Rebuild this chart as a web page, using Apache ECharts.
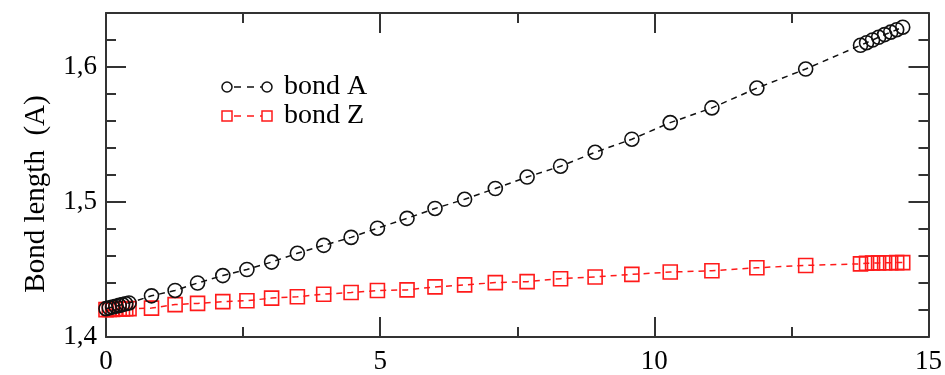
<!DOCTYPE html>
<html>
<head>
<meta charset="utf-8">
<script src="https://cdn.jsdelivr.net/npm/echarts@6/dist/echarts.min.js"></script>
<style>
  html, body { margin: 0; padding: 0; background: #fff; }
  #chart { width: 945px; height: 375px; }
</style>
</head>
<body>
<div id="chart"></div>
<script>
// Strain values (x) shared by both bonds
const strain = [0, 0.06, 0.12, 0.18, 0.24, 0.30, 0.36, 0.42, 0.83, 1.26, 1.67, 2.13, 2.57, 3.02, 3.49, 3.97,
  4.47, 4.95, 5.49, 6.00, 6.54, 7.10, 7.68, 8.29, 8.92, 9.59, 10.29, 11.05, 11.87, 12.76,
  13.76, 13.87, 13.98, 14.09, 14.20, 14.31, 14.42, 14.53];

// Bond lengths in angstrom
const bondA = [1.4210, 1.4216, 1.4222, 1.4228, 1.4234, 1.4240, 1.4246, 1.4252, 1.4305, 1.4345, 1.4400, 1.4455,
  1.4500, 1.4555, 1.4620, 1.4679, 1.4738, 1.4806, 1.4879, 1.4952, 1.5020, 1.5100, 1.5185, 1.5265, 1.5368,
  1.5465, 1.5588, 1.5697, 1.5844, 1.5985, 1.6161, 1.6180, 1.6200, 1.6220, 1.6240, 1.6258, 1.6276, 1.6295];

const bondZ = [1.4203, 1.4204, 1.4205, 1.4206, 1.4207, 1.4208, 1.4209, 1.4210, 1.4214, 1.4240, 1.4249, 1.4262,
  1.4269, 1.4288, 1.4298, 1.4317, 1.4330, 1.4344, 1.4349, 1.4371, 1.4386, 1.4403, 1.4410, 1.4432, 1.4445,
  1.4464, 1.4481, 1.4491, 1.4513, 1.4530, 1.4542, 1.4546, 1.4548, 1.4549, 1.4550, 1.4550, 1.4551, 1.4551];

const xTicks = [0, 5, 10, 15];
const yTicks = [1.4, 1.5, 1.6];

const FONT = '"Liberation Serif", "DejaVu Serif", serif';
const FRAME = '#333';

const pairs = (ys) => strain.map((x, i) => [x, ys[i]]);

const chart = echarts.init(document.getElementById('chart'), null, { renderer: 'canvas' });

function xAxisDef(pos, showLabels) {
  return {
    type: 'value', position: pos, min: xTicks[0], max: xTicks[xTicks.length - 1], interval: xTicks[1] - xTicks[0],
    axisLine: { show: true, onZero: false, lineStyle: { color: FRAME, width: 2 } },
    axisTick: { show: true, inside: true, length: 20, lineStyle: { color: FRAME, width: 2 } },
    minorTick: { show: true, splitNumber: 2, length: 10, lineStyle: { color: FRAME, width: 2 } },
    axisLabel: { show: showLabels, margin: 11, color: '#000', fontFamily: FONT, fontSize: 27 },
    splitLine: { show: false }, minorSplitLine: { show: false }
  };
}

function yAxisDef(pos, step, tickLen, showLine, showLabels) {
  return {
    type: 'value', position: pos, min: 1.4, max: 1.64, interval: step,
    axisLine: { show: showLine, onZero: false, lineStyle: { color: FRAME, width: 2 } },
    axisTick: { show: true, inside: true, length: tickLen, lineStyle: { color: FRAME, width: 2 } },
    axisLabel: {
      show: showLabels, margin: 9, color: '#000', fontFamily: FONT, fontSize: 27,
      showMaxLabel: false,
      formatter: (v) => yTicks.some(t => Math.abs(t - v) < 1e-9) ? v.toFixed(1).replace('.', ',') : ''
    },
    splitLine: { show: false }
  };
}

const option = {
  animation: false,
  backgroundColor: '#fff',
  grid: { left: 106, right: 16, top: 13, bottom: 35, containLabel: false },
  xAxis: [xAxisDef('bottom', true), xAxisDef('top', false)],
  yAxis: [
    yAxisDef('left', 0.1, 20, true, true),
    yAxisDef('left', 0.02, 10, false, false),
    yAxisDef('right', 0.1, 20, true, false),
    yAxisDef('right', 0.02, 10, false, false)
  ],
  series: [
    {
      name: 'bond A', type: 'line', xAxisIndex: 0, yAxisIndex: 0,
      data: pairs(bondA),
      symbol: 'circle', symbolSize: 14,
      itemStyle: { color: 'rgba(0,0,0,0)', borderColor: '#111', borderWidth: 1.6 },
      lineStyle: { color: '#111', width: 1.5, type: [6, 5] },
      z: 3
    },
    {
      name: 'bond Z', type: 'line', xAxisIndex: 0, yAxisIndex: 0,
      data: pairs(bondZ),
      symbol: 'rect', symbolSize: 14,
      itemStyle: { color: 'rgba(0,0,0,0)', borderColor: '#ff1a1a', borderWidth: 1.6 },
      lineStyle: { color: '#ff1a1a', width: 1.5, type: [6, 5] },
      z: 2
    }
  ],
  graphic: [
    // axis title
    {
      type: 'text', x: 36, y: 194, rotation: Math.PI / 2,
      style: { text: 'Bond length  (A)', font: '29px ' + FONT, fill: '#000', align: 'center', verticalAlign: 'middle' }
    },
    // legend: bond A
    { type: 'line', shape: { x1: 232, y1: 87, x2: 262, y2: 87 }, style: { stroke: '#111', lineWidth: 1.5, lineDash: [7, 6], lineDashOffset: -2 } },
    { type: 'circle', shape: { cx: 227, cy: 87, r: 5 }, style: { fill: 'none', stroke: '#111', lineWidth: 1.5 } },
    { type: 'circle', shape: { cx: 267, cy: 87, r: 5 }, style: { fill: 'none', stroke: '#111', lineWidth: 1.5 } },
    { type: 'text', x: 284, y: 87, style: { text: 'bond A', font: '28px ' + FONT, fill: '#000', verticalAlign: 'middle' } },
    // legend: bond Z
    { type: 'line', shape: { x1: 232, y1: 116, x2: 262, y2: 116 }, style: { stroke: '#ff1a1a', lineWidth: 1.5, lineDash: [7, 6], lineDashOffset: -2 } },
    { type: 'rect', shape: { x: 222, y: 111, width: 10, height: 10 }, style: { fill: 'none', stroke: '#ff1a1a', lineWidth: 1.5 } },
    { type: 'rect', shape: { x: 262, y: 111, width: 10, height: 10 }, style: { fill: 'none', stroke: '#ff1a1a', lineWidth: 1.5 } },
    { type: 'text', x: 284, y: 116, style: { text: 'bond Z', font: '28px ' + FONT, fill: '#000', verticalAlign: 'middle' } }
  ]
};

chart.setOption(option);
</script>
</body>
</html>
